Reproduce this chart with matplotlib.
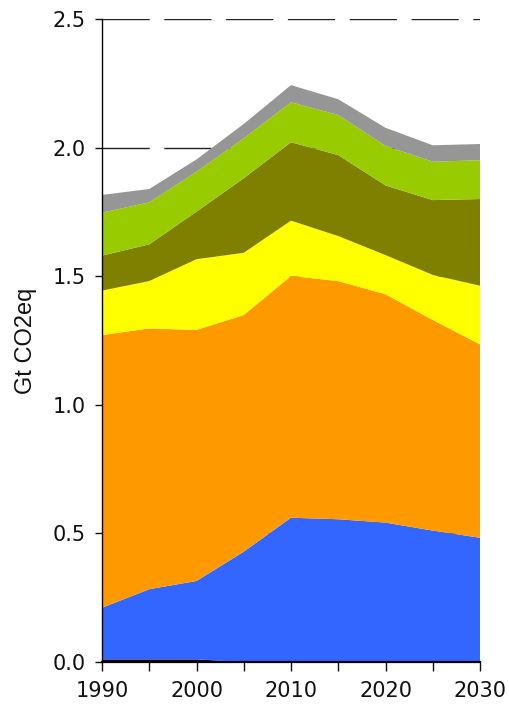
import matplotlib
matplotlib.use("Agg")
import matplotlib.pyplot as plt
import numpy as np

years = [1990, 1995, 2000, 2005, 2010, 2015, 2020, 2025, 2030]
light = [0.004, 0.004, 0.004, 0.000, 0.000, 0.000, 0.000, 0.000, 0.000]
black = [0.006, 0.006, 0.006, 0.000, 0.000, 0.000, 0.000, 0.000, 0.000]
blue = [0.201, 0.273, 0.305, 0.429, 0.561, 0.555, 0.542, 0.511, 0.483]
orange = [1.060, 1.014, 0.976, 0.920, 0.940, 0.926, 0.888, 0.819, 0.752]
yellow = [0.173, 0.184, 0.275, 0.242, 0.215, 0.175, 0.152, 0.175, 0.228]
olive = [0.136, 0.143, 0.185, 0.290, 0.305, 0.315, 0.271, 0.291, 0.337]
green = [0.167, 0.163, 0.155, 0.155, 0.155, 0.156, 0.154, 0.149, 0.151]
gray = [0.069, 0.052, 0.048, 0.056, 0.067, 0.061, 0.070, 0.064, 0.063]

colors = ["#D8D8D8", "#000000", "#3366FF", "#FF9900", "#FFFF00", "#808000", "#99CC00", "#969696"]
yticks = [0.0, 0.5, 1.0, 1.5, 2.0, 2.5]
xticks = [1990, 1995, 2000, 2005, 2010, 2015, 2020, 2025, 2030]
xlabels = ["1990", "", "2000", "", "2010", "", "2020", "", "2030"]

fig = plt.figure(figsize=(5.10, 7.13), dpi=100)
ax = fig.add_axes([102/510, 1-662/713, 378/510, 643/713])

for yv in yticks[1:]:
    ax.axhline(yv, color="#222222", lw=1.0, dashes=(34, 10.5), zorder=0)

ax.stackplot(years, light, black, blue, orange, yellow, olive, green, gray,
             colors=colors, linewidth=0, zorder=2)

ax.set_xlim(1990, 2030)
ax.set_ylim(0, 2.5)
ax.set_xticks(xticks)
ax.set_xticklabels(xlabels)
ax.set_yticks(yticks)
ax.set_yticklabels([f"{v:.1f}" for v in yticks])

for s in ["top", "right"]:
    ax.spines[s].set_visible(False)
ax.spines["left"].set_linewidth(1.0)
ax.spines["bottom"].set_linewidth(1.6)
ax.spines["left"].set_zorder(5)
ax.spines["bottom"].set_zorder(5)

ax.tick_params(axis="x", length=6.5, width=1, direction="out", pad=7,
               labelsize=15, colors="#111111")
ax.tick_params(axis="y", length=5, width=1, direction="out", pad=7,
               labelsize=15, colors="#111111")
for lbl in ax.get_xticklabels() + ax.get_yticklabels():
    lbl.set_family("DejaVu Sans")

fig.text(26/510, 1-341/713, "Gt CO2eq", rotation=90, ha="center", va="center",
         fontsize=17, family="Liberation Sans", color="#111111")

fig.savefig("out.png", dpi=100)
